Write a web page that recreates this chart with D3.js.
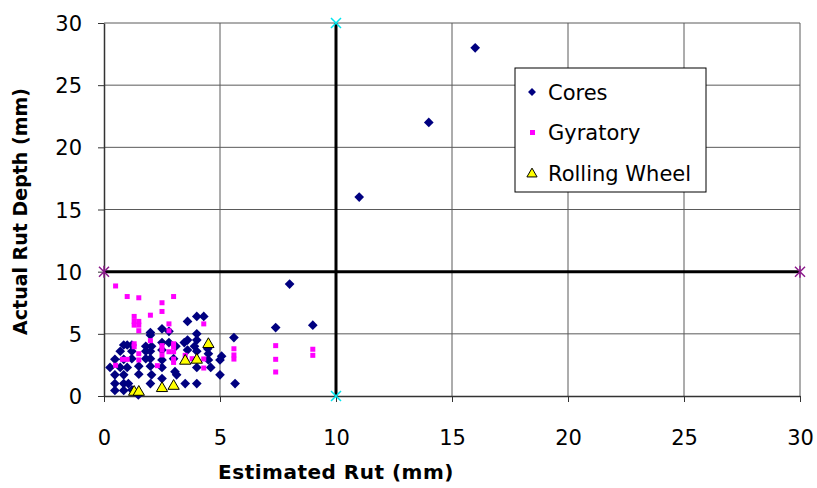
<!DOCTYPE html>
<html>
<head>
<meta charset="utf-8">
<script src="https://cdn.jsdelivr.net/npm/d3@7"></script>
<style>
  body { margin: 0; background: #fff; }
  svg text { font-family: "Comic Sans MS", "DejaVu Sans", sans-serif; fill: #000; }
</style>
</head>
<body>
<div id="chart"></div>
<script>
// Estimated rut (x) vs actual rut depth (y), in mm
const cores = [
  [3.6, 6.0], [4.0, 6.4], [4.3, 6.4],
  [2.0, 5.1], [2.0, 4.9], [2.5, 5.4], [2.8, 5.2], [4.0, 5.0],
  [3.6, 4.5], [4.0, 4.5], [5.6, 4.7],
  [0.85, 4.1], [1.0, 4.1], [1.2, 4.1], [1.8, 4.0], [2.05, 4.0], [2.5, 4.3], [2.8, 4.3],
  [3.1, 4.0], [3.46, 4.3], [3.9, 4.0], [4.47, 3.8],
  [0.7, 3.6], [1.2, 3.6], [1.8, 3.6], [2.0, 3.6], [2.5, 3.7], [3.6, 3.7], [4.0, 3.6],
  [4.5, 3.4], [5.07, 3.2],
  [0.47, 2.95], [0.85, 2.95], [1.2, 3.0], [1.8, 3.0], [2.0, 3.0], [2.5, 2.9], [3.0, 3.0],
  [4.5, 2.9], [5.0, 2.9],
  [0.26, 2.3], [0.7, 2.3], [1.0, 2.3], [1.5, 2.4], [2.0, 2.4], [2.5, 2.3], [3.06, 1.96],
  [4.0, 2.3], [4.6, 2.3],
  [0.47, 1.7], [0.85, 1.7], [1.5, 1.75], [2.05, 1.7], [3.13, 1.7], [5.0, 1.7],
  [0.47, 1.0], [0.85, 1.0], [1.05, 1.0], [2.0, 1.0], [2.5, 1.4], [3.5, 1.0], [4.0, 1.0], [5.65, 1.0],
  [0.47, 0.45], [0.85, 0.45], [1.2, 0.5], [1.48, 0.08],
  [8.0, 9.0], [7.4, 5.5], [9.0, 5.7], [11, 16], [14, 22], [16, 28]
];

const gyratory = [
  [0.5, 8.85], [1.0, 8.0], [1.5, 7.9], [3.0, 8.0], [2.5, 7.5], [2.5, 6.8], [2.0, 6.5],
  [1.3, 6.4], [1.3, 6.0], [1.5, 6.0], [1.5, 5.7], [1.3, 5.7], [2.8, 5.8], [4.3, 5.8],
  [1.5, 5.25], [2.8, 5.25], [2.0, 4.45], [1.3, 4.2], [1.3, 3.96], [2.5, 4.05], [2.5, 3.7],
  [3.0, 4.2], [3.0, 3.96], [2.8, 3.56], [3.0, 3.56], [1.5, 3.4], [1.5, 2.9], [0.8, 2.95],
  [1.0, 2.95], [2.5, 3.3], [3.0, 2.97], [3.0, 2.7], [3.5, 3.27], [3.8, 3.0], [4.3, 2.98],
  [2.3, 2.44], [4.3, 2.25], [0.5, 2.47], [5.6, 3.8], [5.6, 3.3], [5.6, 2.97],
  [7.4, 4.05], [7.4, 2.95], [7.4, 1.93], [9.0, 3.76], [9.0, 3.27]
];

const rollingWheel = [
  [4.5, 4.24], [3.5, 2.9], [4.0, 2.98], [3.0, 0.88], [2.5, 0.7], [1.3, 0.4], [1.5, 0.4]
];

// threshold lines
const vLine = [[10, 0], [10, 30]];
const hLine = [[0, 10], [30, 10]];

const xTicks = [0, 5, 10, 15, 20, 25, 30];
const yTicks = [0, 5, 10, 15, 20, 25, 30];

const W = 817, H = 488;
const margin = { top: 23, right: 17, bottom: 92, left: 104 };

const svg = d3.select("#chart").append("svg")
  .attr("width", W)
  .attr("height", H);

const x = d3.scaleLinear().domain([0, 30]).range([margin.left, W - margin.right]);
const y = d3.scaleLinear().domain([0, 30]).range([H - margin.bottom, margin.top]);

// gridlines
svg.append("g")
  .selectAll("line")
  .data(xTicks.slice(1))
  .enter().append("line")
  .attr("x1", (d) => x(d)).attr("x2", (d) => x(d))
  .attr("y1", y(0)).attr("y2", y(30))
  .attr("stroke", "#5a5a5a").attr("stroke-width", 1);

svg.append("g")
  .selectAll("line")
  .data(yTicks.slice(1))
  .enter().append("line")
  .attr("x1", x(0)).attr("x2", x(30))
  .attr("y1", (d) => y(d)).attr("y2", (d) => y(d))
  .attr("stroke", "#5a5a5a").attr("stroke-width", 1);

// axes
const xAxis = svg.append("g")
  .attr("transform", `translate(0,${y(0)})`)
  .call(d3.axisBottom(x).tickValues(xTicks).tickSize(6).tickPadding(28).tickSizeOuter(0));

const yAxis = svg.append("g")
  .attr("transform", `translate(${x(0)},0)`)
  .call(d3.axisLeft(y).tickValues(yTicks).tickSize(6).tickPadding(16).tickSizeOuter(0));

[xAxis, yAxis].forEach((ax) => {
  ax.select(".domain").attr("stroke", "#333").attr("stroke-width", 1.5);
  ax.selectAll(".tick line").attr("stroke", "#333");
  ax.selectAll(".tick text")
    .style("font-size", "21px")
    .style("font-family", "\"Comic Sans MS\", \"DejaVu Sans\", sans-serif");
});
yAxis.selectAll(".tick text").attr("dy", "0.36em");

// threshold lines
const line = d3.line().x((d) => x(d[0])).y((d) => y(d[1]));
svg.append("path").datum(vLine).attr("d", line)
  .attr("stroke", "#000").attr("stroke-width", 3).attr("fill", "none");
svg.append("path").datum(hLine).attr("d", line)
  .attr("stroke", "#000").attr("stroke-width", 3).attr("fill", "none");

// cyan x markers on the vertical line
vLine.forEach((d) => {
  const cx = x(d[0]), cy = y(d[1]), s = 5;
  svg.append("path")
    .attr("d", `M${cx - s},${cy - s}L${cx + s},${cy + s}M${cx - s},${cy + s}L${cx + s},${cy - s}`)
    .attr("stroke", "#00e5ee").attr("stroke-width", 1.5);
});

// purple star markers on the horizontal line
hLine.forEach((d) => {
  const cx = x(d[0]), cy = y(d[1]), s = 5;
  svg.append("path")
    .attr("d", `M${cx - s},${cy - s}L${cx + s},${cy + s}M${cx - s},${cy + s}L${cx + s},${cy - s}M${cx},${cy - s - 1}L${cx},${cy + s + 1}`)
    .attr("stroke", "#8b1a8b").attr("stroke-width", 1.5);
});

// series
const diamond = d3.symbol().type(d3.symbolDiamond2).size(60);
const triangle = d3.symbol().type(d3.symbolTriangle).size(55);

svg.append("g")
  .selectAll("path")
  .data(cores)
  .enter().append("path")
  .attr("d", diamond)
  .attr("transform", (d) => `translate(${x(d[0])},${y(d[1])})`)
  .attr("fill", "#000080");

svg.append("g")
  .selectAll("rect")
  .data(gyratory)
  .enter().append("rect")
  .attr("x", (d) => x(d[0]) - 2.5)
  .attr("y", (d) => y(d[1]) - 2.5)
  .attr("width", 5).attr("height", 5)
  .attr("fill", "#ff00ff");

svg.append("g")
  .selectAll("path")
  .data(rollingWheel)
  .enter().append("path")
  .attr("d", triangle)
  .attr("transform", (d) => `translate(${x(d[0])},${y(d[1]) + 1})`)
  .attr("fill", "#ffff00")
  .attr("stroke", "#000").attr("stroke-width", 1);

// legend
const legend = svg.append("g").attr("transform", "translate(515,68)");
legend.append("rect")
  .attr("width", 191).attr("height", 124)
  .attr("fill", "#fff").attr("stroke", "#000").attr("stroke-width", 1);

const items = [
  { name: "Cores", y: 24 },
  { name: "Gyratory", y: 64 },
  { name: "Rolling Wheel", y: 105 }
];

legend.append("path")
  .attr("d", d3.symbol().type(d3.symbolDiamond2).size(40))
  .attr("transform", `translate(17,${items[0].y})`)
  .attr("fill", "#000080");
legend.append("rect")
  .attr("x", 15).attr("y", items[1].y - 2)
  .attr("width", 5).attr("height", 5)
  .attr("fill", "#ff00ff");
legend.append("path")
  .attr("d", d3.symbol().type(d3.symbolTriangle).size(45))
  .attr("transform", `translate(17,${items[2].y + 1})`)
  .attr("fill", "#ffff00").attr("stroke", "#000");

legend.selectAll("text.item")
  .data(items)
  .enter().append("text")
  .attr("class", "item")
  .attr("x", 33)
  .attr("y", (d) => d.y)
  .attr("dy", "0.36em")
  .style("font-size", "21px")
  .text((d) => d.name);

// axis titles
svg.append("text")
  .attr("x", x(10))
  .attr("y", 479)
  .attr("text-anchor", "middle")
  .style("font-size", "20px")
  .style("font-weight", "bold")
  .style("letter-spacing", "0.5px")
  .text("Estimated Rut (mm)");

svg.append("text")
  .attr("transform", `translate(27,${y(15) + 2}) rotate(-90)`)
  .attr("text-anchor", "middle")
  .style("font-size", "19px")
  .style("font-weight", "bold")
  .text("Actual Rut Depth (mm)");
</script>
</body>
</html>
